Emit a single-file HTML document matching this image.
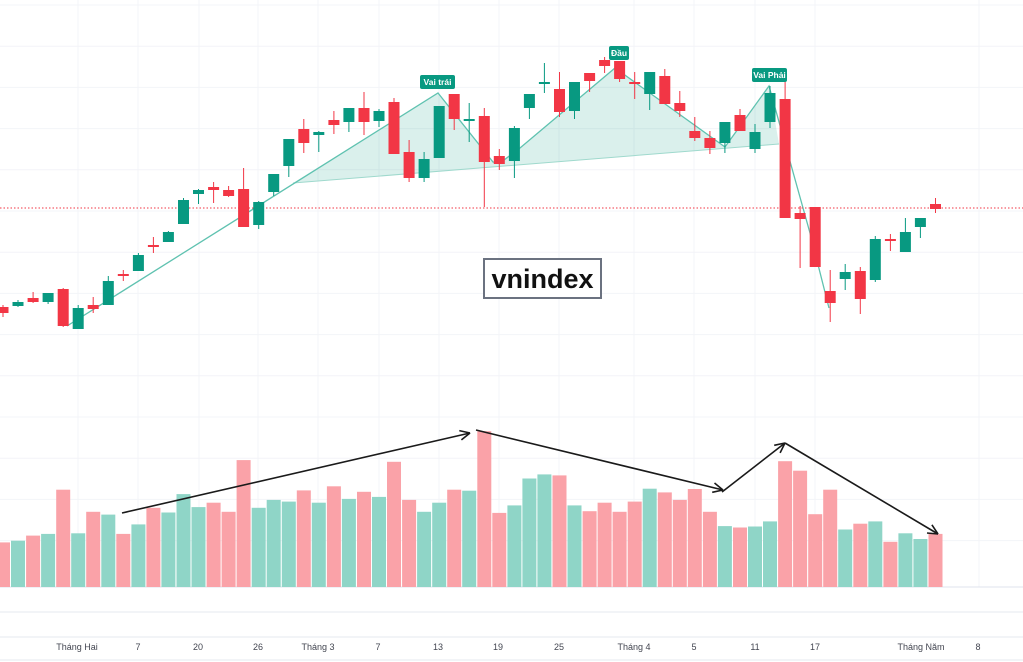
<!DOCTYPE html>
<html><head><meta charset="utf-8"><style>
html,body{margin:0;padding:0;background:#fff;width:1023px;height:662px;overflow:hidden}
svg{display:block}
text{font-family:"Liberation Sans",sans-serif}
</style></head><body>
<svg id="s" width="1023" height="662" xmlns="http://www.w3.org/2000/svg"></svg>
<script>
var s=document.getElementById('s'),h='';
for(var y=5;y<=545;y+=41.2)h+='<line x1="0" x2="1023" y1="'+y.toFixed(1)+'" y2="'+y.toFixed(1)+'" stroke="#f3f4f8" stroke-width="1"/>';
[78,138,199,258,318,379,439,499,559,634,694,755,815,979].forEach(function(x){h+='<line x1="'+x+'" x2="'+x+'" y1="0" y2="587" stroke="#f3f4f8"/>';});
h+='<line x1="0" x2="1023" y1="587" y2="587" stroke="#dfe3ec"/><line x1="0" x2="1023" y1="612" y2="612" stroke="#e4e8ef"/><line x1="0" x2="1023" y1="637" y2="637" stroke="#e4e8ef"/><line x1="0" x2="1023" y1="660" y2="660" stroke="#e4e8ef"/>';
var vol="r360 g355 r340 g335 r205 g333 r270 g278 r335 g307 r258 g272 g218 g256 r243 r270 r118 g258 g235 g240 r207 g243 r195 g232 r211 g226 r123 r235 g270 g243 r205 g208 r33 r273 g251 g172 g160 r163 g251 r268 r243 r270 r240 g202 r213 r235 r203 r270 g312 r316 g313 g298 r121 r149 r277 r205 g322 r305 g298 r358 g333 g350 r335".split(' ');
vol.forEach(function(v,i){var c=3+i*15.04,t=420+(+v.slice(1))/2.94;h+='<rect x="'+(c-7).toFixed(1)+'" y="'+t.toFixed(1)+'" width="14" height="'+(587-t).toFixed(1)+'" fill="'+(v[0]=='g'?'#8fd5c7':'#faa2a8')+'"/>';});
h+='<polygon points="293,183 438,93 493,162 500,163 520,148 615,68 725,147 769,86 779,144" fill="rgba(8,153,129,0.15)"/>';
h+='<line x1="293" y1="183" x2="779" y2="144" stroke="#9fd9cd" stroke-width="1"/>';
h+='<polyline points="67,326 438,93 493,162 500,163 520,148 615,68 725,147 769,86 810,233 829,308" fill="none" stroke="#5fc2b0" stroke-width="1.3"/>';
h+='<line x1="0" x2="1023" y1="208" y2="208" stroke="#f23645" stroke-width="1" stroke-dasharray="1.5,2"/>';
var C=[[0,307,313,305,317],[1,302,306,300,307],[0,298,302,292,303],[1,293,302,293,304],[0,289,326,288,327],[1,308,329,305,329],[0,305,309,297,313],[1,281,305,276,305],[0,275,275,270,281],[1,255,271,253,271],[0,246,246,237,253],[1,232,242,231,242],[1,200,224,198,224],[1,190,194,189,204],[0,187,190,182,203],[0,190,196,186,197],[0,189,227,168,227],[1,202,225,201,229],[1,174,192,174,196],[1,139,166,139,177],[0,129,143,119,153],[1,132,135,131,152],[0,120,125,111,134],[1,108,122,108,132],[0,108,122,92,135],[1,111,121,109,127],[0,102,154,98,154],[0,152,178,140,182],[1,159,178,152,182],[1,106,158,106,158],[0,94,119,94,130],[1,120,120,103,142],[0,116,162,108,207],[0,156,164,149,170],[1,128,161,126,178],[1,94,108,94,119],[1,83,83,63,93],[0,89,112,72,117],[1,82,111,82,119],[0,73,81,73,92],[0,60,66,57,73],[0,61,79,61,82],[0,83,83,72,99],[1,72,94,72,110],[0,76,104,69,104],[0,103,111,91,117],[0,131,138,117,141],[0,138,148,131,154],[1,122,143,122,153],[0,115,131,109,131],[1,132,149,124,153],[1,93,122,86,128],[0,99,218,82,218],[0,213,219,206,268],[0,207,267,207,267],[0,291,303,270,322],[1,272,279,264,290],[0,271,299,267,314],[1,239,280,236,282],[0,240,240,234,251],[1,232,252,218,252],[1,218,227,218,238],[0,204,209,198,213]];
C.forEach(function(c,i){var x=3+i*15.04,col=c[0]?'#089981':'#f23645';
h+='<line x1="'+x.toFixed(1)+'" x2="'+x.toFixed(1)+'" y1="'+c[3]+'" y2="'+c[4]+'" stroke="'+col+'" stroke-width="1"/>';
var bh=Math.max(c[2]-c[1],2);h+='<rect x="'+(x-5.5).toFixed(1)+'" y="'+(c[1]-(c[2]==c[1]?1:0))+'" width="11" height="'+bh+'" fill="'+col+'"/>';});
function lab(x,y,w,t){h+='<rect x="'+x+'" y="'+y+'" width="'+w+'" height="14" rx="2" fill="#089981"/><text x="'+(x+w/2)+'" y="'+(y+10)+'" font-size="8.5" font-weight="bold" fill="#fff" text-anchor="middle">'+t+'</text>';}
lab(420,75,35,'Vai trái');lab(609,46,20,'Đầu');lab(752,68,35,'Vai Phải');
h+='<rect x="484" y="259" width="117" height="39" fill="#fff" stroke="#6b7280" stroke-width="2"/><text x="542.5" y="288" font-size="27" font-weight="bold" fill="#111" text-anchor="middle">vnindex</text>';
function arr(x1,y1,x2,y2){h+='<line x1="'+x1+'" y1="'+y1+'" x2="'+x2+'" y2="'+y2+'" stroke="#1a1a1a" stroke-width="1.6"/>';var a=Math.atan2(y2-y1,x2-x1),L=11;[0.45,-0.45].forEach(function(d){h+='<line x1="'+x2+'" y1="'+y2+'" x2="'+(x2-L*Math.cos(a+d)).toFixed(1)+'" y2="'+(y2-L*Math.sin(a+d)).toFixed(1)+'" stroke="#1a1a1a" stroke-width="1.6"/>';});}
arr(122,513,470,433);arr(476,430,723,490);arr(722,492,785,443);arr(785,443,938,534);
[[77,'Tháng Hai'],[138,'7'],[198,'20'],[258,'26'],[318,'Tháng 3'],[378,'7'],[438,'13'],[498,'19'],[559,'25'],[634,'Tháng 4'],[694,'5'],[755,'11'],[815,'17'],[921,'Tháng Năm'],[978,'8']].forEach(function(l){h+='<text x="'+l[0]+'" y="650" font-size="9" fill="#434651" text-anchor="middle">'+l[1]+'</text>';});
s.innerHTML=h;
</script>
</body></html>
